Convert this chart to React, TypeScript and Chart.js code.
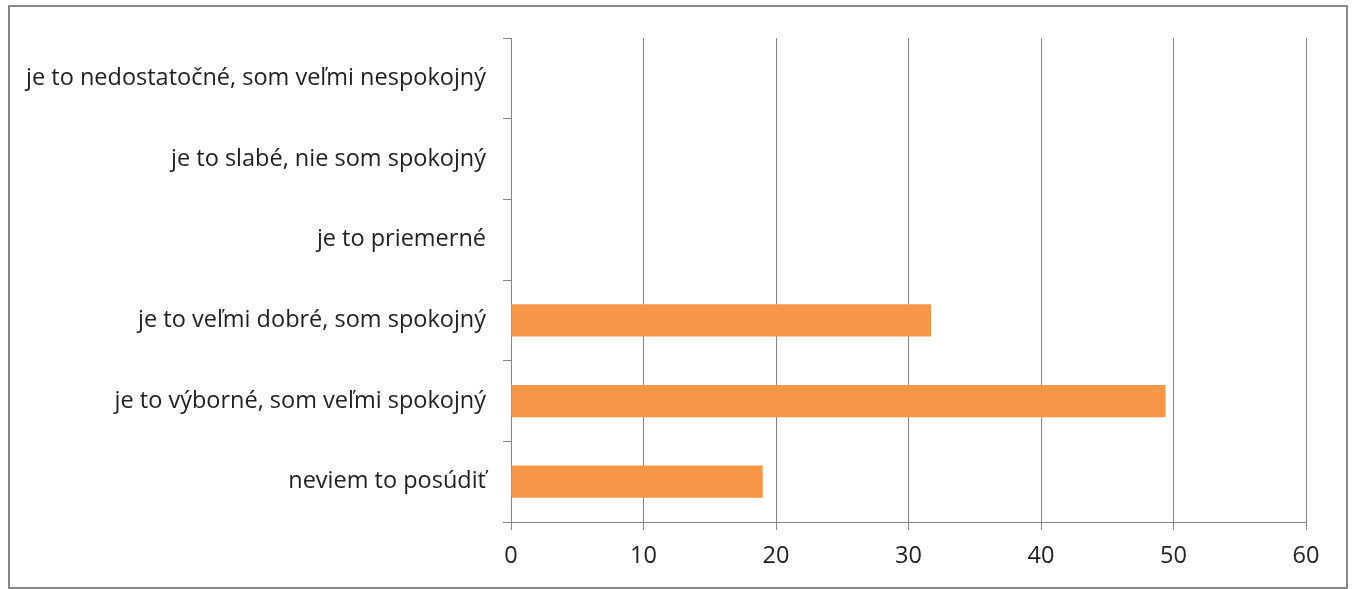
import React, { useEffect, useRef } from "react";
import { Chart, registerables } from "chart.js";

Chart.register(...registerables);

const categories = [
  "je to nedostatočné, som veľmi nespokojný",
  "je to slabé, nie som spokojný",
  "je to priemerné",
  "je to veľmi dobré, som spokojný",
  "je to výborné, som veľmi spokojný",
  "neviem to posúdiť",
];
const values = [0, 0, 0, 31.7, 49.4, 19.0];
const xMin = 0;
const xMax = 60;
const xStep = 10;

const FONT = "'Open Sans', Lato, sans-serif";
const GRID = "#868686";

export default function App() {
  const ref = useRef<HTMLCanvasElement | null>(null);

  useEffect(() => {
    if (!ref.current) return;
    const chart = new Chart(ref.current, {
      type: "bar",
      data: {
        labels: categories,
        datasets: [
          {
            data: values,
            backgroundColor: "#F79646",
            borderWidth: 0,
            barPercentage: 0.4,
            categoryPercentage: 1,
          },
        ],
      },
      options: {
        indexAxis: "y",
        animation: false,
        responsive: false,
        devicePixelRatio: 1,
        layout: { padding: { top: 28, right: 40, left: 0, bottom: 0 } },
        plugins: {
          legend: { display: false },
          tooltip: { enabled: false },
        },
        scales: {
          x: {
            min: xMin,
            max: xMax,
            ticks: {
              stepSize: xStep,
              color: "#1f1f1f",
              font: { family: FONT, size: 23.5 },
              padding: 12,
            },
            grid: {
              color: GRID,
              lineWidth: 1,
              tickLength: 8,
              drawTicks: true,
            },
            border: { display: true, color: GRID, width: 1 },
            afterFit: (scale: any) => {
              scale.height = 65;
            },
          },
          y: {
            ticks: {
              color: "#1f1f1f",
              font: { family: FONT, size: 23.5 },
              padding: 17,
            },
            grid: {
              drawOnChartArea: false,
              drawTicks: true,
              tickLength: 8,
              color: GRID,
              offset: true,
            },
            border: { display: true, color: GRID, width: 1 },
            afterFit: (scale: any) => {
              scale.width = 501;
            },
          },
        },
      },
    });
    return () => chart.destroy();
  }, []);

  return (
    <div
      style={{
        position: "absolute",
        left: 8,
        top: 5,
        width: 1340,
        height: 584,
        border: "2px solid #898989",
        boxSizing: "border-box",
        background: "#fff",
      }}
    >
      <canvas ref={ref} width={1336} height={580} style={{ display: "block" }} />
    </div>
  );
}
